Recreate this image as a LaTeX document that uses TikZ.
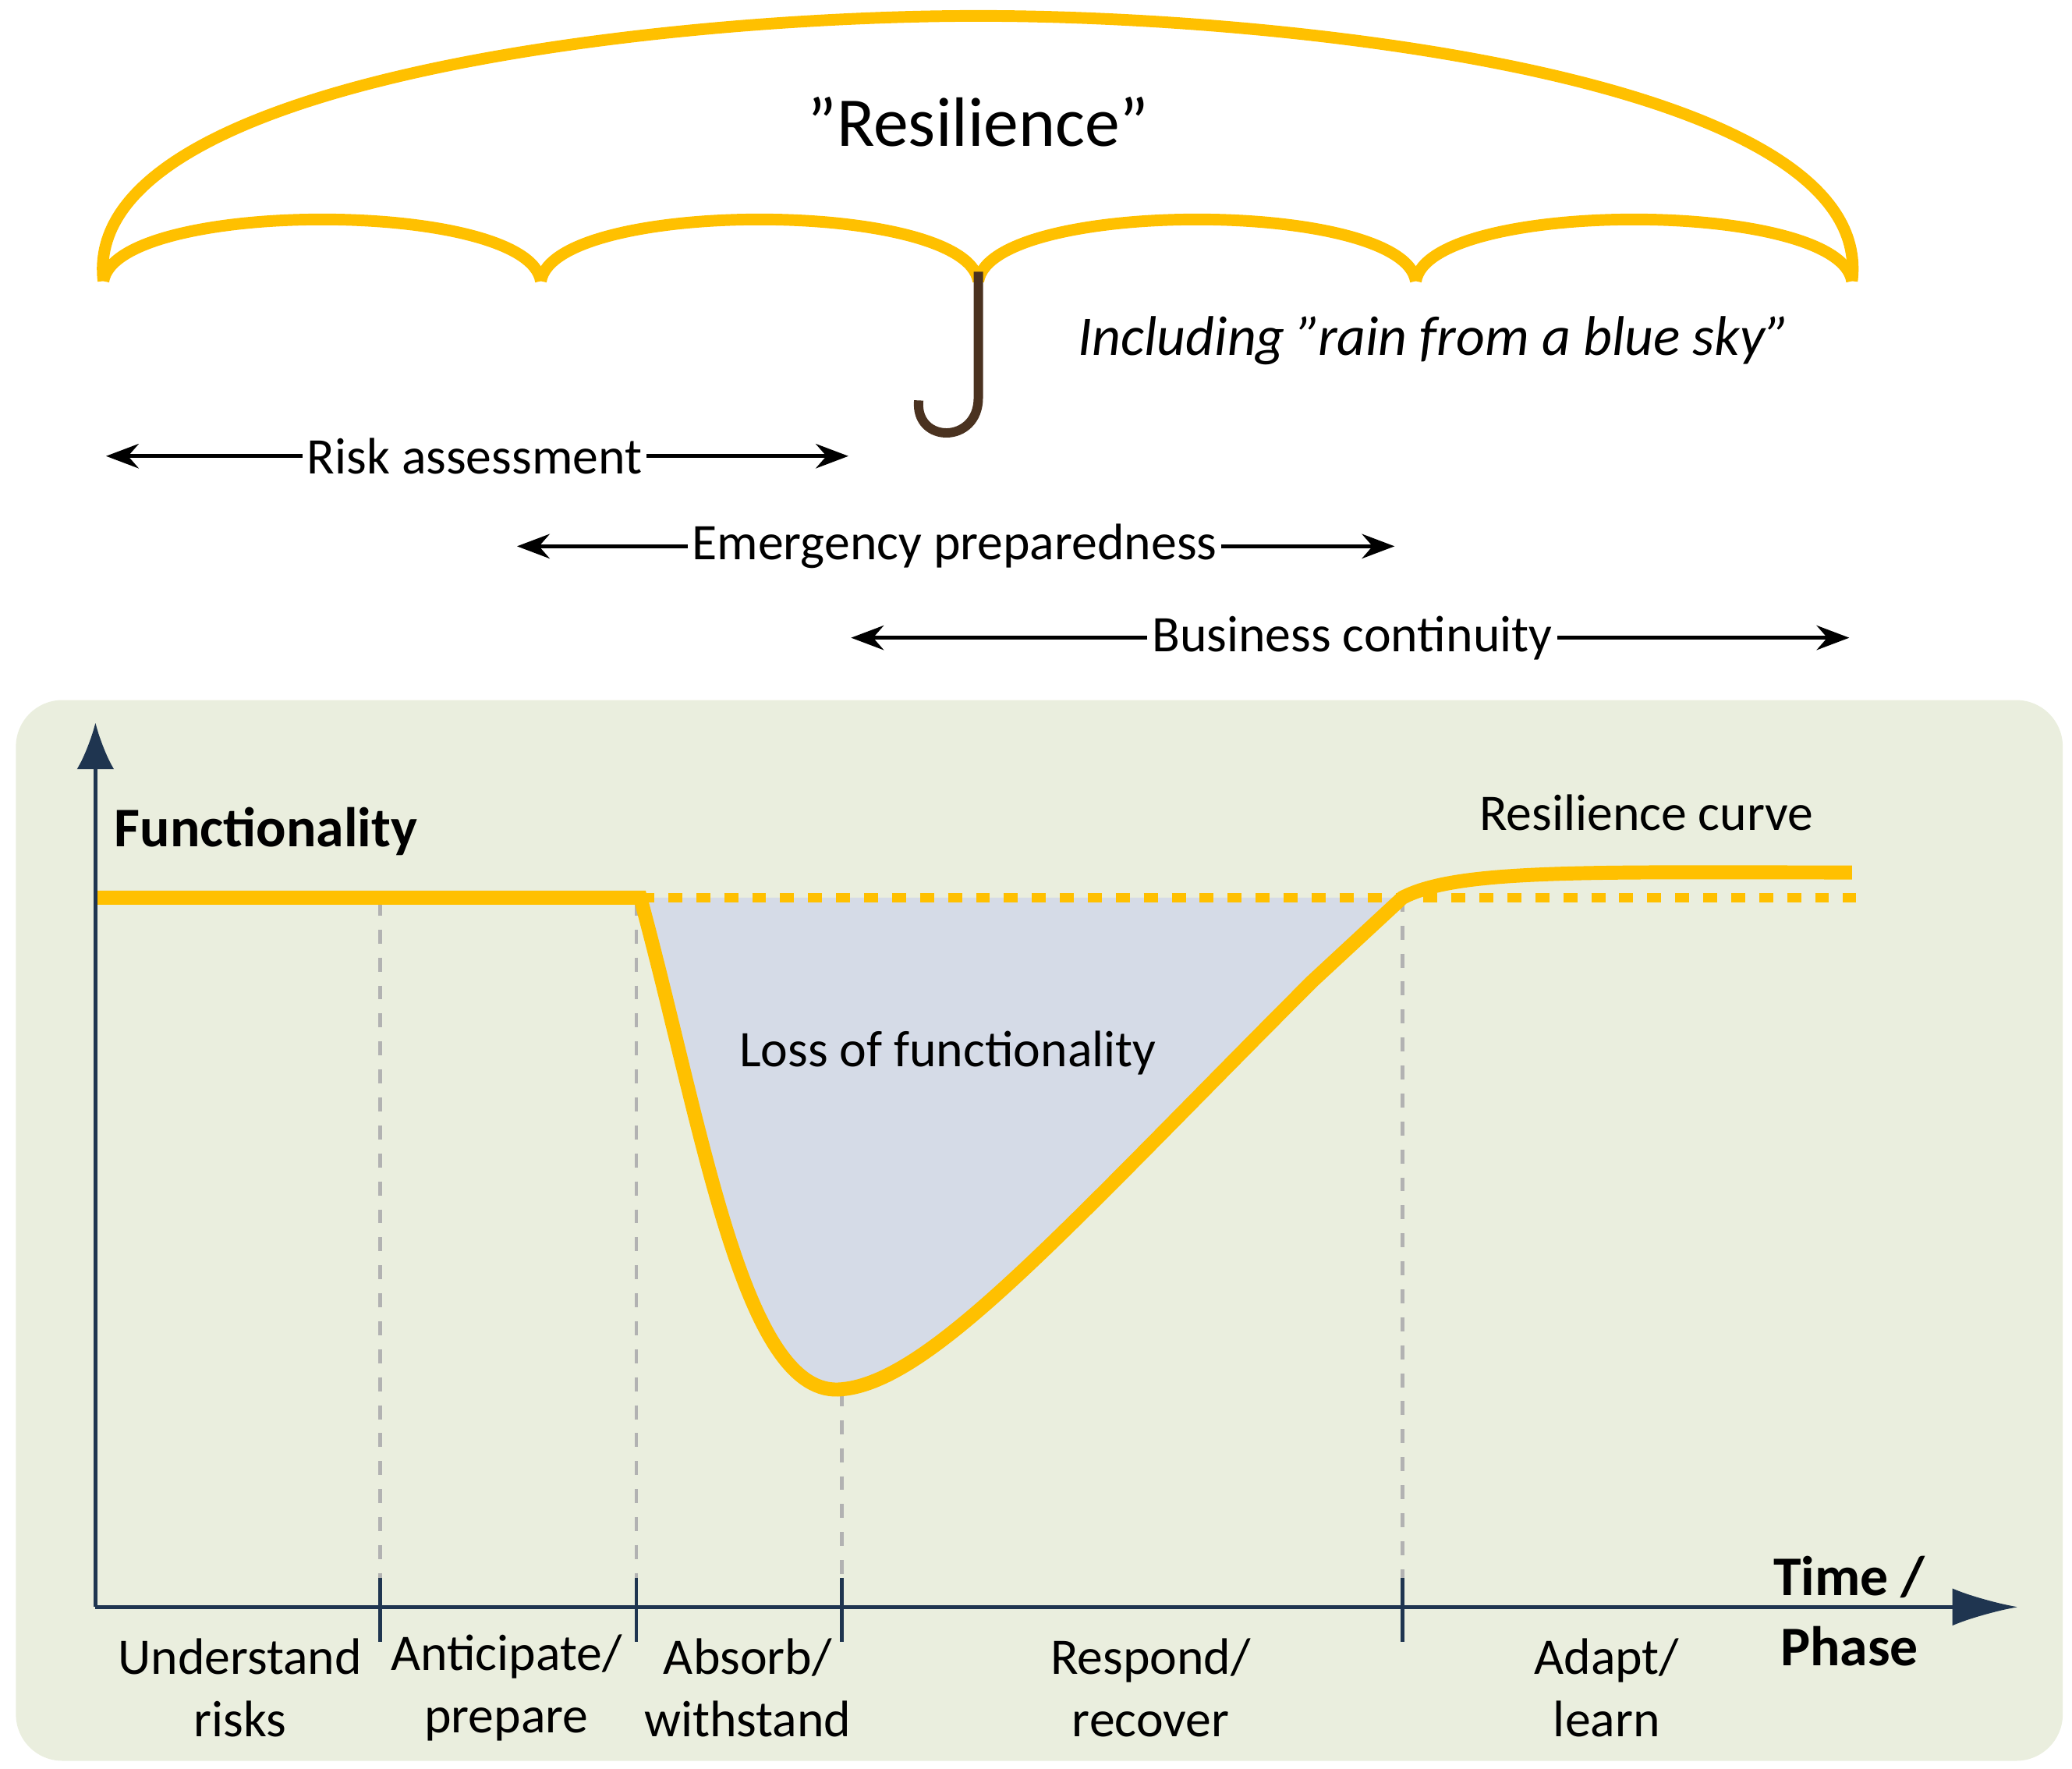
\documentclass[tikz,border=0pt]{standalone}
\usepackage{fontspec}
\setmainfont{Carlito}
\usetikzlibrary{arrows.meta,positioning}
\definecolor{gold}{HTML}{FFC000}
\definecolor{panel}{HTML}{EAEEDE}
\definecolor{lossfill}{HTML}{D5DBE7}
\definecolor{axisblue}{HTML}{1F3550}
\definecolor{handle}{HTML}{4A3220}
\begin{document}
\begin{tikzpicture}[x=0.01cm,y=-0.01cm,
    span/.style = {{Stealth[length=7pt]}-{Stealth[length=7pt]}, thick},
    lbl/.style = {font=\fontsize{11}{13}\selectfont, inner sep=1pt},
    phase/.style = {font=\fontsize{11}{13.5}\selectfont, align=center},
    grid/.style = {dashed, gray!60, thick},
    tick/.style = {axisblue, thick}]
            \useasboundingbox (0,0) rectangle (1563,1334);
            % umbrella
            \draw[gold, line width=2.5pt] (78,212) .. controls (60,60) and (500,12) .. (738,12)
                  .. controls (976,12) and (1416,60) .. (1397,212);
            \foreach \a/\b in {78/408, 408/738, 738/1068, 1068/1397}
                \draw[gold, line width=2.5pt] (\a,212) .. controls (\a+10,150) and (\b-10,150) .. (\b,212);
            \draw[handle, line width=2pt] (738,205) -- (738,300) .. controls (738,335) and (690,335) .. (693,302);
            \node[font=\fontsize{15}{18}\selectfont] (res) at (738,92) {"Resilience"};
            \node[font=\fontsize{12}{14}\selectfont\itshape] (rain) at (1082,257) {Including "rain from a blue sky"};

            % phases of work
            \coordinate (r1) at (80,344);   \coordinate (r2) at (640,344);
            \coordinate (e1) at (390,412);  \coordinate (e2) at (1052,412);
            \coordinate (b1) at (642,481);  \coordinate (b2) at (1395,481);
            \draw[span] (r1) -- (r2);
            \draw[span] (e1) -- (e2);
            \draw[span] (b1) -- (b2);
            \node[lbl, fill=white] (risk) at (358,344) {Risk assessment};
            \node[lbl, fill=white] (emer) at (720,412) {Emergency preparedness};
            \node[lbl, fill=white] (bus) at (1020,481) {Business continuity};

            % chart
            \fill[panel, rounded corners=0.35cm] (12,528) rectangle (1556,1328);
            \fill[lossfill] (483,677) .. controls (530,850) and (560,1050) .. (632,1048)
                  .. controls (700,1045) and (800,930) .. (990,740) -- (1058,677) -- cycle;
            \foreach \x/\t in {287/680, 480/680, 635/1050, 1058/677}
                \draw[grid] (\x,\t) -- (\x,1212);
            \draw[gold, dashed, line width=2pt] (483,677) -- (1400,677);
            \draw[gold, line width=3pt] (72,677) -- (483,677) .. controls (530,850) and (560,1050) .. (632,1048)
                  .. controls (700,1045) and (800,930) .. (990,740) -- (1058,677)
                  .. controls (1100,655) and (1200,658) .. (1397,658);
            \coordinate (o) at (72,1212);
            \coordinate (ytop) at (72,545);
            \coordinate (xend) at (1522,1212);
            \draw[axisblue, thick, -{Latex[length=10pt,width=8pt]}] (o) -- (ytop);
            \draw[axisblue, thick, -{Latex[length=14pt,width=8pt]}] (o) -- (xend);
            \foreach \x in {287, 480, 635, 1058}
                \draw[tick] (\x,1190) -- (\x,1238);
            \node[lbl, anchor=west, font=\fontsize{12}{14}\selectfont\bfseries] (func) at (82,627) {Functionality};
            \node[lbl] (curve) at (1242,613) {Resilience curve};
            \node[lbl] (loss) at (715,794) {Loss of functionality};
            \node[phase, font=\fontsize{12}{15}\selectfont\bfseries] (time) at (1395,1215) {Time /\\Phase};

            \node[phase] (p1) at (181,1273) {Understand\\risks};
            \node[phase] (p2) at (382,1273) {Anticipate/\\prepare};
            \node[phase] (p3) at (564,1273) {Absorb/\\withstand};
            \node[phase] (p4) at (868,1273) {Respond/\\recover};
            \node[phase] (p5) at (1212,1273) {Adapt/\\learn};
        \end{tikzpicture}
\end{document}
